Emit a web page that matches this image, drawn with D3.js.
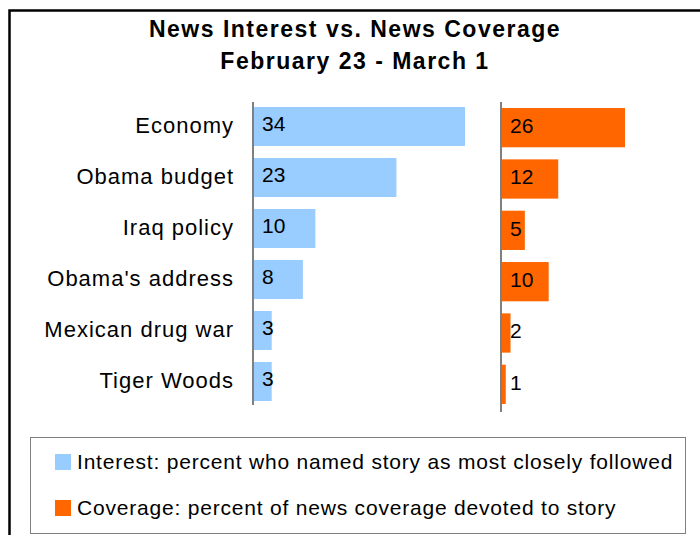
<!DOCTYPE html>
<html>
<head>
<meta charset="utf-8">
<script src="https://cdn.jsdelivr.net/npm/d3@7"></script>
<style>
  body { margin: 0; background: #fff; }
  text { font-family: Arial, "Liberation Sans", sans-serif; fill: #000; }
</style>
</head>
<body>
<svg id="chart" width="700" height="535"></svg>
<script>
// data
var stories = ["Economy", "Obama budget", "Iraq policy", "Obama's address", "Mexican drug war", "Tiger Woods"];
var interest = [34, 23, 10, 8, 3, 3];
var coverage = [26, 12, 5, 10, 2, 1];
var titleLines = ["News Interest vs. News Coverage", "February 23 - March 1"];
var legendLabels = ["Interest: percent who named story as most closely followed",
                    "Coverage: percent of news coverage devoted to story"];

var blue = "#99ccff";
var orange = "#ff6600";

var svg = d3.select("#chart");

// outer frame (runs off the right and bottom edges)
svg.append("rect")
    .attr("x", 9.5).attr("y", 10.5)
    .attr("width", 720).attr("height", 560)
    .attr("fill", "none")
    .attr("stroke", "#000")
    .attr("stroke-width", 2.5);

// title
svg.selectAll(".title")
    .data(titleLines)
    .enter().append("text")
    .attr("class", "title")
    .attr("x", 355)
    .attr("y", function(d, i) { return 37 + i * 32; })
    .attr("text-anchor", "middle")
    .style("font-size", "23px")
    .style("font-weight", "bold")
    .style("letter-spacing", "1.5px")
    .text(function(d) { return d; });

// scales
var yInt = d3.scaleBand().domain(stories).range([101, 407]).paddingInner(0.235).paddingOuter(0.1175);
var yCov = d3.scaleBand().domain(stories).range([102, 410]).paddingInner(0.235).paddingOuter(0.1175);
var xInt = d3.scaleLinear().domain([0, 34]).range([253, 465]);
var xCov = d3.scaleLinear().domain([0, 26]).range([501, 625]);

// category labels
svg.selectAll(".cat")
    .data(stories)
    .enter().append("text")
    .attr("class", "cat")
    .attr("x", 234)
    .attr("y", function(d) { return yInt(d) + yInt.bandwidth() / 2 + 6; })
    .attr("text-anchor", "end")
    .style("font-size", "22px")
    .style("letter-spacing", "1px")
    .text(function(d) { return d; });

function drawPanel(values, x, y, color, axisBottom, labelDy) {
    var g = svg.append("g");
    g.selectAll("rect")
        .data(values)
        .enter().append("rect")
        .attr("x", x(0))
        .attr("y", function(d, i) { return y(stories[i]); })
        .attr("width", function(d) { return x(d) - x(0); })
        .attr("height", y.bandwidth())
        .attr("fill", color);

    g.append("line")
        .attr("x1", x(0)).attr("x2", x(0))
        .attr("y1", 102).attr("y2", axisBottom)
        .attr("stroke", "#808080")
        .attr("stroke-width", 2);

    g.selectAll(".val")
        .data(values)
        .enter().append("text")
        .attr("class", "val")
        .attr("x", x(0) + 9)
        .attr("y", function(d, i) { return y(stories[i]) + labelDy; })
        .style("font-size", "21px")
        .text(function(d) { return d; });
}

drawPanel(interest, xInt, yInt, blue, 405, 24);
drawPanel(coverage, xCov, yCov, orange, 412, 25);

// legend
svg.append("rect")
    .attr("x", 30.5).attr("y", 437.5)
    .attr("width", 655).attr("height", 96)
    .attr("fill", "none")
    .attr("stroke", "#808080")
    .attr("stroke-width", 1);

var legend = svg.selectAll(".leg")
    .data(legendLabels)
    .enter().append("g")
    .attr("class", "leg")
    .attr("transform", function(d, i) { return "translate(55," + (454 + i * 46) + ")"; });

legend.append("rect")
    .attr("width", 16).attr("height", 16)
    .attr("fill", function(d, i) { return i === 0 ? blue : orange; });

legend.append("text")
    .attr("x", 22)
    .attr("y", 15)
    .style("font-size", "21px")
    .style("letter-spacing", "0.8px")
    .text(function(d) { return d; });
</script>
</body>
</html>
